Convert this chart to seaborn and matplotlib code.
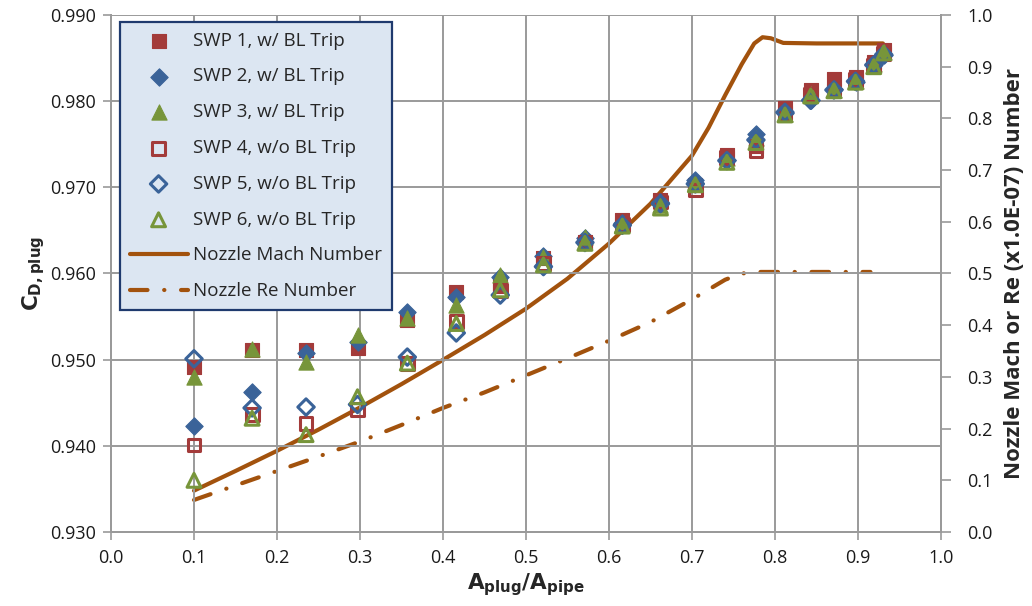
import matplotlib
matplotlib.use("Agg")
import matplotlib.pyplot as plt
from matplotlib.ticker import FormatStrFormatter, MultipleLocator
import seaborn as sns
import pandas as pd

# Area ratio of each test point
area_ratio = [0.100, 0.170, 0.235, 0.297, 0.357, 0.416, 0.469, 0.521, 0.571, 0.616,
              0.662, 0.704, 0.742, 0.777, 0.812, 0.843, 0.871, 0.897, 0.919, 0.931]

# Discharge coefficient per sweep
swp1 = [0.9492, 0.9511, 0.9511, 0.9514, 0.9546, 0.9579, 0.9585, 0.9618, 0.9637, 0.9662,
        0.9685, 0.9703, 0.9738, 0.9748, 0.9792, 0.9813, 0.9826, 0.9828, 0.9846, 0.9859]
swp2 = [0.9423, 0.9463, 0.9508, 0.9520, 0.9555, 0.9573, 0.9596, 0.9620, 0.9641, 0.9659,
        0.9683, 0.9709, 0.9732, 0.9762, 0.9786, 0.9801, 0.9814, 0.9822, 0.9843, 0.9854]
swp3 = [0.9480, 0.9512, 0.9497, 0.9529, 0.9548, 0.9564, 0.9598, 0.9619, 0.9642, 0.9657,
        0.9680, 0.9706, 0.9734, 0.9757, 0.9785, 0.9808, 0.9813, 0.9823, 0.9843, 0.9857]
swp4 = [0.9401, 0.9436, 0.9426, 0.9442, 0.9496, 0.9544, 0.9580, 0.9612, 0.9636, 0.9657,
        0.9683, 0.9697, 0.9735, 0.9743, 0.9787, 0.9808, 0.9813, 0.9825, 0.9841, 0.9855]
swp5 = [0.9501, 0.9444, 0.9445, 0.9448, 0.9503, 0.9531, 0.9575, 0.9608, 0.9636, 0.9656,
        0.9681, 0.9704, 0.9731, 0.9755, 0.9787, 0.9801, 0.9813, 0.9823, 0.9842, 0.9854]
swp6 = [0.9360, 0.9432, 0.9413, 0.9457, 0.9496, 0.9542, 0.9581, 0.9610, 0.9635, 0.9655,
        0.9676, 0.9703, 0.9729, 0.9752, 0.9784, 0.9806, 0.9812, 0.9822, 0.9840, 0.9856]

# Nozzle Mach number curve
mach_x = [0.10, 0.15, 0.20, 0.25, 0.30, 0.35, 0.40, 0.45, 0.50, 0.55, 0.60, 0.65,
          0.70, 0.72, 0.74, 0.76, 0.775, 0.785, 0.795, 0.81, 0.85, 0.93]
mach_y = [0.080, 0.118, 0.157, 0.198, 0.241, 0.286, 0.333, 0.381, 0.432, 0.490, 0.558, 0.635,
          0.728, 0.782, 0.845, 0.905, 0.945, 0.957, 0.955, 0.946, 0.945, 0.945]

# Nozzle Reynolds number curve (x1.0E-07)
re_x = [0.10, 0.15, 0.20, 0.25, 0.30, 0.35, 0.40, 0.45, 0.50, 0.55, 0.60, 0.65,
        0.70, 0.74, 0.76, 0.78, 0.915]
re_y = [0.062, 0.090, 0.118, 0.146, 0.175, 0.207, 0.240, 0.270, 0.303, 0.336, 0.370, 0.406,
        0.450, 0.488, 0.500, 0.503, 0.503]

labels = ["SWP 1, w/ BL Trip", "SWP 2, w/ BL Trip", "SWP 3, w/ BL Trip",
          "SWP 4, w/o BL Trip", "SWP 5, w/o BL Trip", "SWP 6, w/o BL Trip",
          "Nozzle Mach Number", "Nozzle Re Number"]

RED = "#A33B3A"
BLUE = "#3A6399"
GREEN = "#77953A"
BROWN = "#A2520D"
GRID = "#9A9A9A"

sns.set_theme(style="white")
plt.rcParams["font.family"] = ["Open Sans", "DejaVu Sans"]

fig = plt.figure(figsize=(10.32, 6.06), dpi=100)
ax = fig.add_axes([111 / 1032, 1 - 532 / 606, 830 / 1032, 517 / 606])
ax2 = ax.twinx()

df = pd.DataFrame({"x": area_ratio, "s1": swp1, "s2": swp2, "s3": swp3,
                   "s4": swp4, "s5": swp5, "s6": swp6})

# Lines on the secondary axis
sns.lineplot(x=mach_x, y=mach_y, ax=ax2, color=BROWN, lw=3.0, label=labels[6],
             sort=False, legend=False)
sns.lineplot(x=re_x, y=re_y, ax=ax2, color=BROWN, lw=3.0, label=labels[7],
             sort=False, legend=False)
re_line = ax2.lines[-1]
re_line.set_linestyle((0, (4.2, 4.0, 0.05, 4.0)))
re_line.set_dash_capstyle("round")
ax2.lines[0].set_solid_capstyle("round")

# Markers on the primary axis
specs = [("s1", "s", RED, True, 105), ("s2", "D", BLUE, True, 78),
         ("s3", "^", GREEN, True, 120), ("s4", "s", RED, False, 85),
         ("s5", "D", BLUE, False, 70), ("s6", "^", GREEN, False, 100)]
for i, (col, mk, c, filled, size) in enumerate(specs):
    if filled:
        sns.scatterplot(data=df, x="x", y=col, ax=ax, marker=mk, s=size, color=c,
                        edgecolor=c, linewidth=0.8, label=labels[i], zorder=3 + i)
    else:
        sns.scatterplot(data=df, x="x", y=col, ax=ax, marker=mk, s=size, facecolor="none",
                        edgecolor=c, linewidth=2.2, label=labels[i], zorder=3 + i)

ax.set_zorder(ax2.get_zorder() + 1)
ax.patch.set_visible(False)

# Axes limits and ticks
ax.set_xlim(0.0, 1.0)
ax.set_ylim(0.930, 0.990)
ax2.set_ylim(0.0, 1.0)
ax.xaxis.set_major_locator(MultipleLocator(0.1))
ax.yaxis.set_major_locator(MultipleLocator(0.01))
ax2.yaxis.set_major_locator(MultipleLocator(0.1))
ax.xaxis.set_major_formatter(FormatStrFormatter("%.1f"))
ax.yaxis.set_major_formatter(FormatStrFormatter("%.3f"))
ax2.yaxis.set_major_formatter(FormatStrFormatter("%.1f"))

ax.grid(True, color=GRID, lw=1.4)
ax2.grid(False)
ax.set_axisbelow(True)

for a in (ax, ax2):
    for s in a.spines.values():
        s.set_color(GRID)
        s.set_linewidth(1.4)
    a.spines["top"].set_visible(False)

ax.tick_params(axis="both", which="major", direction="out", length=6, width=1.2,
               color=GRID, labelsize=13, labelcolor="#1a1a1a", pad=5)
ax.tick_params(axis="y", left=True, right=False)
ax.tick_params(axis="x", bottom=True, pad=6)
ax2.tick_params(axis="y", direction="out", length=7, width=1.2, color=GRID,
                labelsize=13, labelcolor="#1a1a1a", right=True, pad=12)

plt.rcParams["mathtext.fontset"] = "custom"
ax.set_xlabel(r"$\mathbf{A_{plug}/A_{pipe}}$", fontsize=15.5, labelpad=3)
ax.set_ylabel(r"$\mathbf{C_{D,plug}}$", fontsize=15.5, labelpad=2)
ax2.set_ylabel("Nozzle Mach or Re (x1.0E-07) Number", fontsize=16, fontweight="bold",
               labelpad=8)

# Combined legend
h1, l1 = ax.get_legend_handles_labels()
h2, l2 = ax2.get_legend_handles_labels()
leg = ax.legend(h1 + h2, l1 + l2, loc="upper left", bbox_to_anchor=(0.011, 0.986),
                borderaxespad=0, fontsize=13.5, frameon=True, fancybox=False,
                facecolor="#DCE6F2", edgecolor="#1F3A6E", framealpha=1.0,
                handlelength=3.1, handletextpad=0.3, labelspacing=0.95,
                borderpad=0.5, scatterpoints=1)
leg.get_frame().set_linewidth(1.6)
leg.set_zorder(20)

fig.savefig("out.png", dpi=100)
